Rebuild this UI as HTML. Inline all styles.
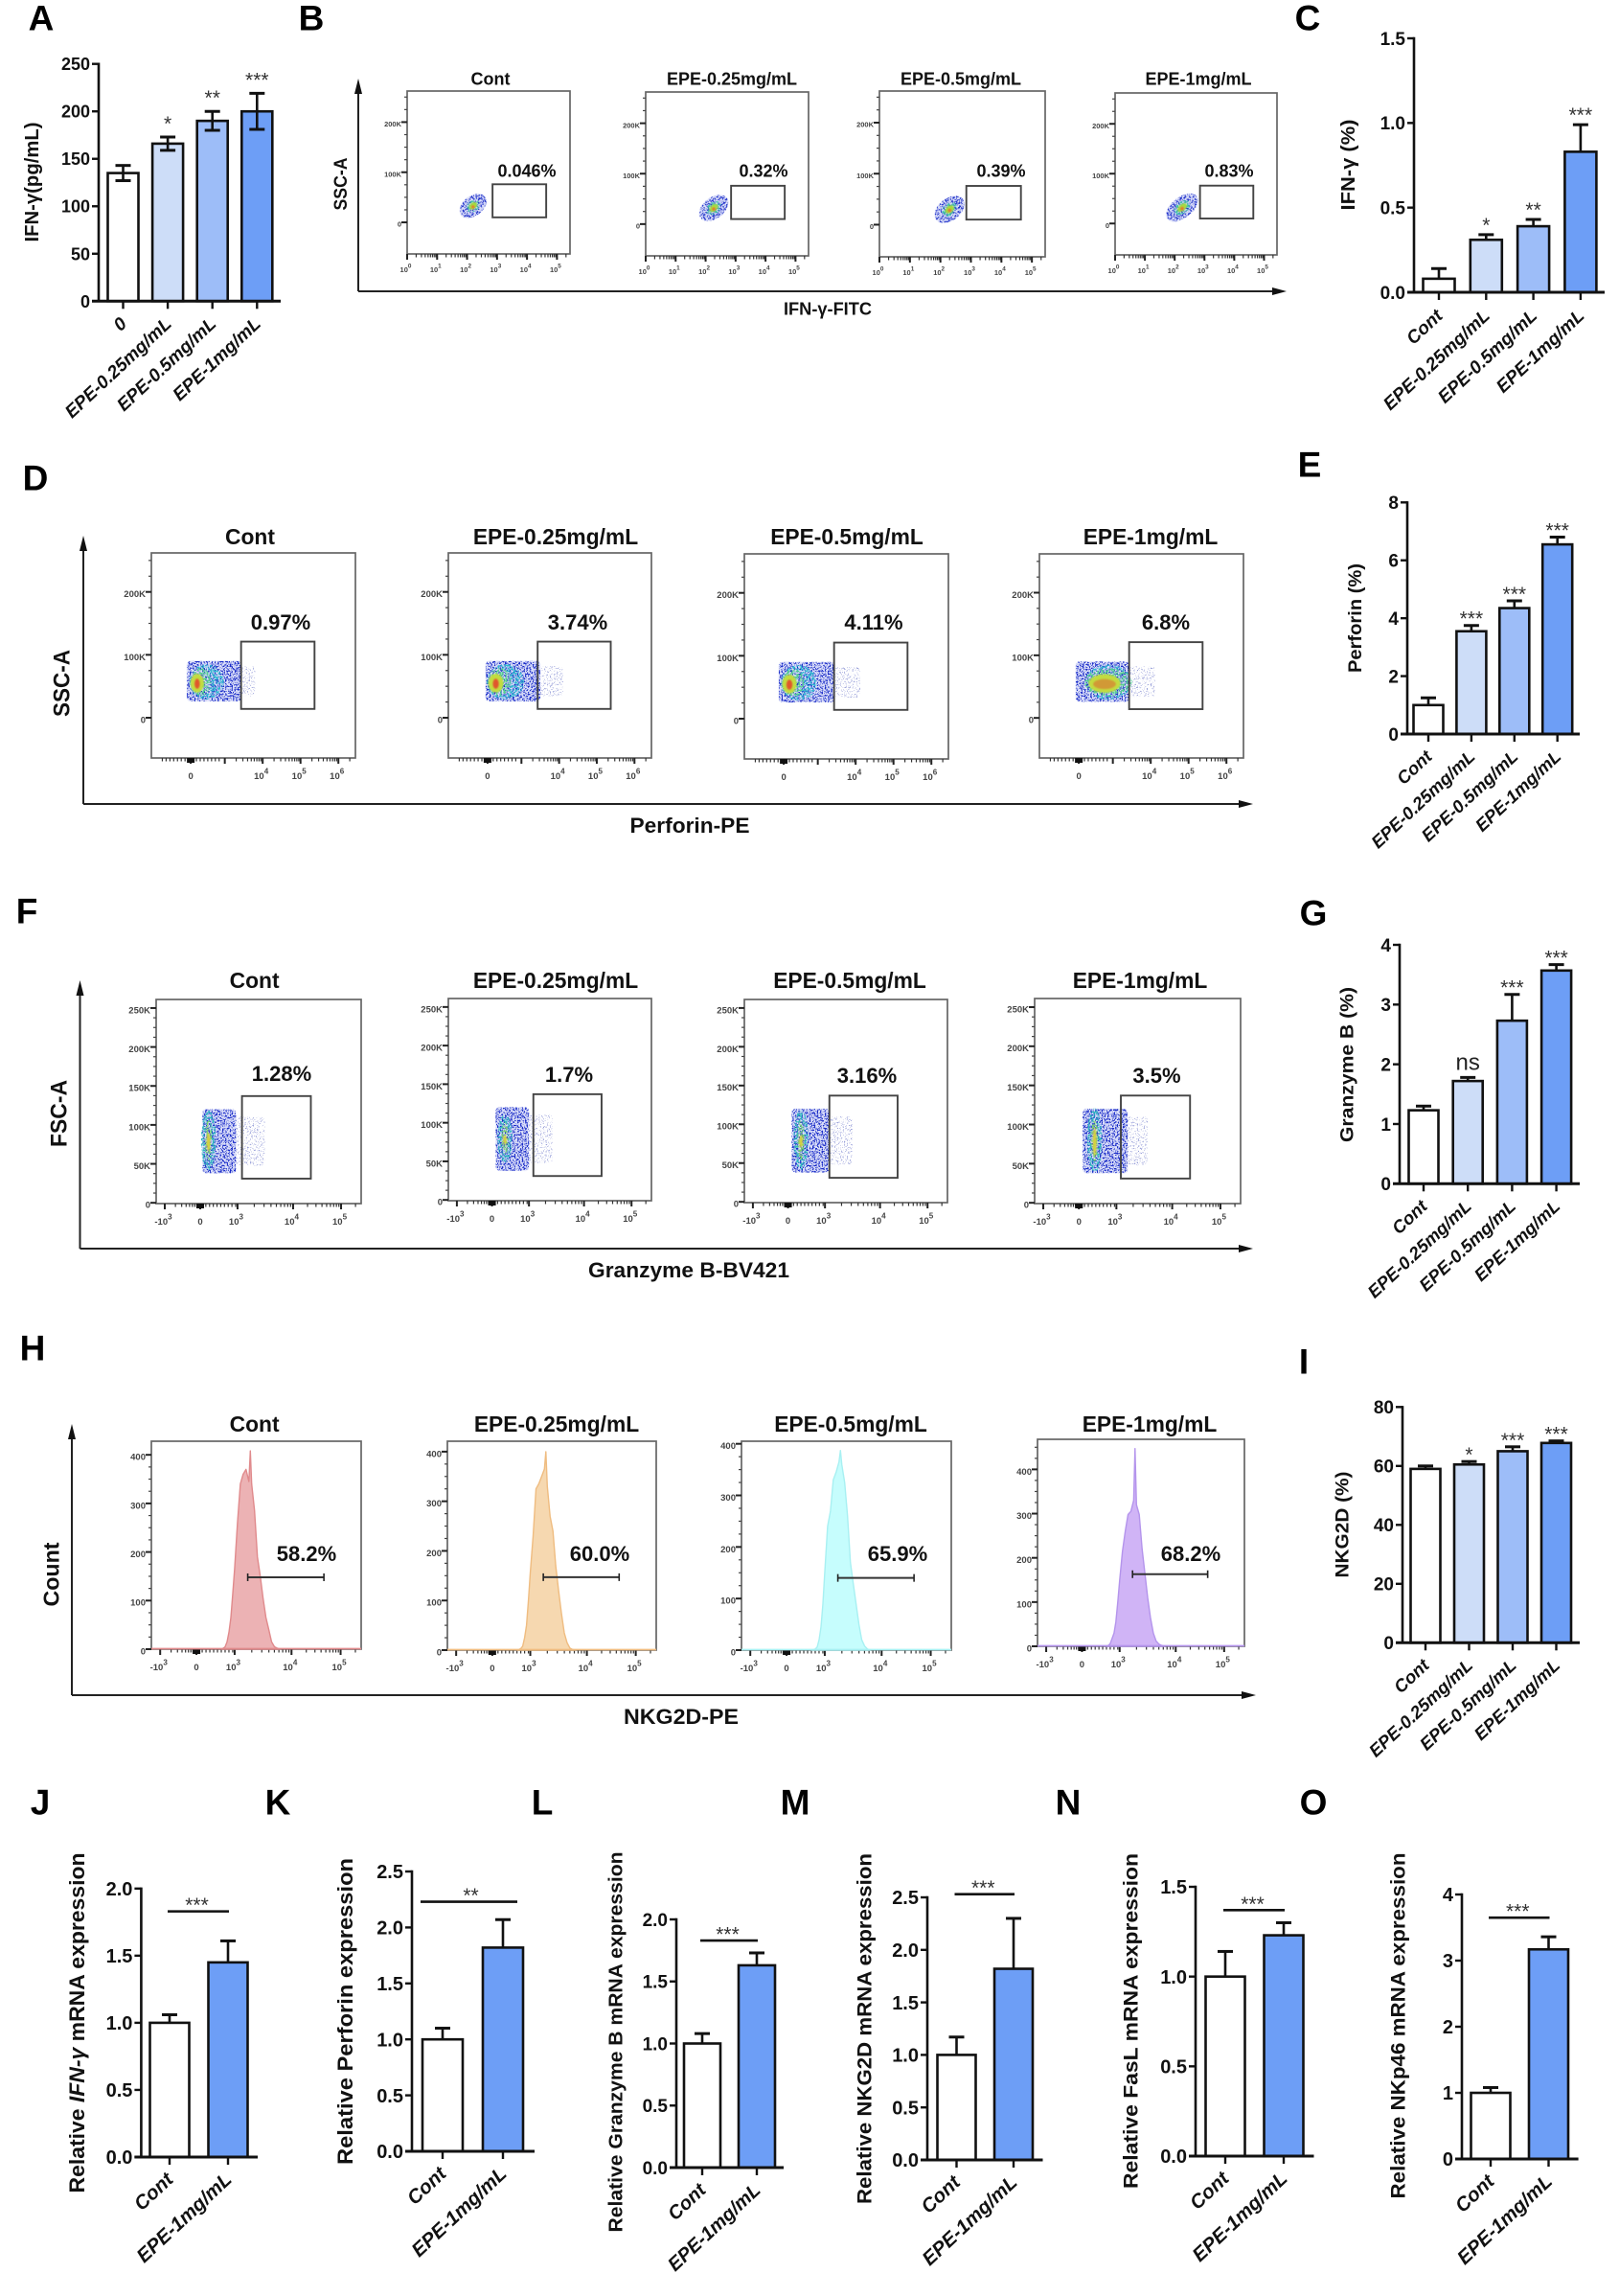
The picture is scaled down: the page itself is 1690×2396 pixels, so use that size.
<!DOCTYPE html>
<html lang="en">
<head>
<meta charset="utf-8">
<title>EPE NK cell activation figure</title>
<style>
html,body{margin:0;padding:0;background:#fff;}
svg{display:block;font-family:"Liberation Sans",sans-serif;}
</style>
</head>
<body>
<svg id="figure" width="1690" height="2396" viewBox="0 0 1690 2396">
<defs>
<filter id="speckle" x="-10%" y="-10%" width="120%" height="120%" color-interpolation-filters="sRGB">
<feTurbulence type="fractalNoise" baseFrequency="0.62" numOctaves="2" seed="4" result="n"/>
<feColorMatrix in="n" type="matrix" values="0 0 0 0 0 0 0 0 0 0 0 0 0 0 0 14 0 0 0 -7.2" result="m"/>
<feComposite in="SourceGraphic" in2="m" operator="in"/>
</filter>
<filter id="speckle2" x="-10%" y="-10%" width="120%" height="120%" color-interpolation-filters="sRGB">
<feTurbulence type="fractalNoise" baseFrequency="0.5" numOctaves="2" seed="12" result="n"/>
<feColorMatrix in="n" type="matrix" values="0 0 0 0 0 0 0 0 0 0 0 0 0 0 0 12 0 0 0 -5.8" result="m"/>
<feComposite in="SourceGraphic" in2="m" operator="in"/>
<feGaussianBlur stdDeviation="0.3"/>
</filter>
<filter id="sparse" x="-10%" y="-10%" width="120%" height="120%" color-interpolation-filters="sRGB">
<feTurbulence type="fractalNoise" baseFrequency="0.7" numOctaves="2" seed="9" result="n"/>
<feColorMatrix in="n" type="matrix" values="0 0 0 0 0 0 0 0 0 0 0 0 0 0 0 16 0 0 0 -9.6" result="m"/>
<feComposite in="SourceGraphic" in2="m" operator="in"/>
</filter>
<filter id="soft3" x="-50%" y="-50%" width="200%" height="200%"><feGaussianBlur stdDeviation="2.6"/></filter>
<filter id="soft2" x="-50%" y="-50%" width="200%" height="200%"><feGaussianBlur stdDeviation="1.6"/></filter>
<filter id="soft1" x="-50%" y="-50%" width="200%" height="200%"><feGaussianBlur stdDeviation="0.9"/></filter>
<filter id="soft0" x="-10%" y="-10%" width="120%" height="120%"><feGaussianBlur stdDeviation="0.4"/></filter>
</defs>
</svg>
<script>
/* ===== bar chart data ===== */
const doseCategories = ['Cont', 'EPE-0.25mg/mL', 'EPE-0.5mg/mL', 'EPE-1mg/mL'];
const aCategories = ['0', 'EPE-0.25mg/mL', 'EPE-0.5mg/mL', 'EPE-1mg/mL'];
const pairCategories = ['Cont', 'EPE-1mg/mL'];
const doseColors = ['#ffffff', '#cdddf8', '#9dbdf8', '#6d9ef6'];
const pairColors = ['#ffffff', '#6d9ef6'];

const aValues = [135, 166, 190, 200];
const aErrors = [8, 7, 10, 19];
const aSig = ['', '*', '**', '***'];
const aTicks = [0, 50, 100, 150, 200, 250];
const aTickLabels = ['0', '50', '100', '150', '200', '250'];

const cValues = [0.08, 0.31, 0.39, 0.83];
const cErrors = [0.06, 0.03, 0.04, 0.16];
const cSig = ['', '*', '**', '***'];
const cTicks = [0, 0.5, 1, 1.5];
const cTickLabels = ['0.0', '0.5', '1.0', '1.5'];

const eValues = [1.0, 3.55, 4.35, 6.55];
const eErrors = [0.25, 0.2, 0.25, 0.25];
const eSig = ['', '***', '***', '***'];
const eTicks = [0, 2, 4, 6, 8];
const eTickLabels = ['0', '2', '4', '6', '8'];

const gValues = [1.23, 1.72, 2.73, 3.57];
const gErrors = [0.07, 0.06, 0.44, 0.1];
const gSig = ['', 'ns', '***', '***'];
const gTicks = [0, 1, 2, 3, 4];
const gTickLabels = ['0', '1', '2', '3', '4'];

const iValues = [59, 60.5, 65, 67.8];
const iErrors = [1.0, 1.0, 1.5, 0.7];
const iSig = ['', '*', '***', '***'];
const iTicks = [0, 20, 40, 60, 80];
const iTickLabels = ['0', '20', '40', '60', '80'];

const jValues = [1.0, 1.45];
const jErrors = [0.06, 0.16];
const jTicks = [0, 0.5, 1, 1.5, 2];
const jTickLabels = ['0.0', '0.5', '1.0', '1.5', '2.0'];

const kValues = [1.0, 1.82];
const kErrors = [0.1, 0.25];
const kTicks = [0, 0.5, 1, 1.5, 2, 2.5];
const kTickLabels = ['0.0', '0.5', '1.0', '1.5', '2.0', '2.5'];

const lValues = [1.0, 1.63];
const lErrors = [0.08, 0.1];
const lTicks = [0, 0.5, 1, 1.5, 2];
const lTickLabels = ['0.0', '0.5', '1.0', '1.5', '2.0'];

const mValues = [1.0, 1.82];
const mErrors = [0.17, 0.48];
const mTicks = [0, 0.5, 1, 1.5, 2, 2.5];
const mTickLabels = ['0.0', '0.5', '1.0', '1.5', '2.0', '2.5'];

const nValues = [1.0, 1.23];
const nErrors = [0.14, 0.07];
const nTicks = [0, 0.5, 1, 1.5];
const nTickLabels = ['0.0', '0.5', '1.0', '1.5'];

const oValues = [1.0, 3.17];
const oErrors = [0.08, 0.19];
const oTicks = [0, 1, 2, 3, 4];
const oTickLabels = ['0', '1', '2', '3', '4'];

/* ===== flow cytometry axes (axis units) ===== */
const bXBreakU = [0, 5];
const bXBreakF = [0, 0.92];
const bXTicks = [0, 1, 2, 3, 4, 5];
const bXLabels = ['10', '10', '10', '10', '10', '10'];
const bXExps = ['0', '1', '2', '3', '4', '5'];
const bYDomain = [-63, 262];
const bYTicks = [0, 100, 200];
const bYLabels = ['0', '100K', '200K'];

const dXBreakU = [1.06, 6.45];
const dXBreakF = [0, 1];
const dXTicks = [2.1, 4, 5, 6];
const dXLabels = ['0', '10', '10', '10'];
const dXExps = ['', '4', '5', '6'];
const dYDomain = [-64, 262];
const dYTicks = [0, 100, 200];
const dYLabels = ['0', '100K', '200K'];

const fXBreakU = [-1, 0, 1, 2, 3];
const fXBreakF = [0.042, 0.215, 0.397, 0.668, 0.902];
const fXTicks = [-1, 0, 1, 2, 3];
const fXLabels = ['-10', '0', '10', '10', '10'];
const fXExps = ['3', '', '3', '4', '5'];
const fYDomain = [-1, 261];
const fYTicks = [0, 50, 100, 150, 200, 250];
const fYLabels = ['0', '50K', '100K', '150K', '200K', '250K'];

const hYMax = [428, 421, 405, 468];
const hYTicks = [0, 100, 200, 300, 400];
const hYLabels = ['0', '100', '200', '300', '400'];

/* ===== gates ===== */
const bGateX = [2.85, 4.64];
const bGateY = [10, 76];
const dGateX = [3.43, 5.37];
const dGateY = [14, 121];
const fGateX = [1.08, 2.37];
const fGateY = [31, 137];
const hGateX = [1.23, 2.66];
const hGateCounts = [148, 147, 140, 163];

/* ===== population clouds: centre and spread in axis units ===== */
const bCloudCentreX = [2.2, 2.27, 2.3, 2.25];
const bCloudCentreY = [33, 32, 30, 32];
const bCloudSpreadX = [0.5, 0.55, 0.55, 0.62];
const bCloudSpreadY = [22, 23, 24, 23];

const dCloudLow = [2.0, 2.05, 1.97, 2.02];
const dCloudHigh = [3.43, 3.5, 3.44, 3.43];
const dCloudTail = [3.8, 4.11, 4.12, 4.12];
const dCoreX = [2.27, 2.32, 2.25, 2.78];
const dCoreSpread = [0.24, 0.26, 0.25, 0.32];
const dHighSpread = [0.18, 0.2, 0.19, 0.42];
const dLowShift = [0.25, 0.25, 0.25, 0.1];
const dRedSpread = [0.07, 0.08, 0.08, 0.3];
const dRedOpacity = [0.9, 0.9, 0.9, 0.45];

const fCloudLow = [0.06, 0.1, 0.1, 0.1];
const fCloudHigh = [0.96, 1.0, 1.08, 1.2];
const fCloudTail = [1.49, 1.43, 1.5, 1.56];
const fCoreX = [0.22, 0.35, 0.35, 0.42];
const fCoreSpreadY = [32, 26, 32, 34];
const fRedSpreadY = [12, 6, 8, 18];

/* ===== histogram series ===== */
const hBins = [0.65, 0.7, 0.75, 0.8, 0.85, 0.9, 0.95, 1, 1.05, 1.1, 1.15, 1.2, 1.25, 1.275, 1.3, 1.35, 1.4, 1.45, 1.5, 1.55, 1.6, 1.65, 1.7, 1.75, 1.8];
const hCountsCont = [0, 2, 5, 15, 35, 65, 115, 165, 260, 340, 360, 370, 345, 408, 340, 285, 190, 150, 105, 65, 40, 15, 5, 2, 0];
const hCountsLow = [0, 1, 3, 8, 25, 50, 100, 155, 230, 325, 335, 350, 365, 400, 330, 270, 240, 170, 120, 75, 35, 15, 4, 1, 0];
const hCountsMid = [0, 1, 2, 6, 20, 45, 90, 150, 240, 270, 330, 345, 365, 387, 360, 325, 260, 170, 130, 90, 50, 20, 8, 2, 0];
const hCountsHigh = [0, 2, 6, 18, 30, 55, 100, 150, 215, 260, 298, 305, 330, 447, 320, 298, 220, 165, 110, 65, 30, 12, 5, 2, 0];

/* ===== helpers ===== */
const root = document.getElementById('figure');
const NS = root.namespaceURI;

function add(parent, tag, attrs, name) {
  const el = document.createElementNS(NS, tag);
  for (const k in attrs) el.setAttribute(k, attrs[k]);
  
  
  parent.appendChild(el);
  return el;
}
function group(parent, name) {
  return add(parent, 'g', {}, name);
}
function line(parent, x1, y1, x2, y2, w, c, name) {
  return add(parent, 'line', {x1: x1, y1: y1, x2: x2, y2: y2, 'stroke-width': w, stroke: c}, name);
}
function label(parent, x, y, str, o, name) {
  o = o || {};
  const a = {
    x: o.rot !== undefined ? 0 : x,
    y: o.rot !== undefined ? 0 : y,
    'font-size': o.size || 18,
    'font-weight': o.weight || 'normal',
    'text-anchor': o.anchor || 'middle',
    fill: o.fill || '#111'
  };
  if (o.italic) a['font-style'] = 'italic';
  if (o.rot !== undefined) a.transform = 'translate(' + x + ',' + y + ') rotate(' + o.rot + ')';
  if (o.len) { a.textLength = o.len; a.lengthAdjust = 'spacingAndGlyphs'; }
  const el = add(parent, 'text', a, name);
  if (Array.isArray(str)) {
    str.forEach(function (p) {
      const t = add(el, 'tspan', p[1] ? {'font-style': 'italic'} : {}, 'text-part');
      t.textContent = p[0];
    });
  } else {
    el.textContent = str;
  }
  return el;
}
function panelLetter(ch, cx, cy) {
  label(root, cx, cy + 13.5, ch, {size: 37, weight: 'bold', fill: '#000'}, 'panel-letter-' + ch.toLowerCase());
}
function axisArrows(parent, ax, top, bottom, right, yText, yX, yY, yLen, xText, xX, xY, xSize, xLen, ySize) {
  line(parent, ax, top + 12, ax, bottom, 2, '#222', 'y-axis-arrow-line');
  add(parent, 'polygon', {points: ax + ',' + top + ' ' + (ax - 4) + ',' + (top + 16) + ' ' + (ax + 4) + ',' + (top + 16), fill: '#111'}, 'y-axis-arrow-head');
  line(parent, ax, bottom, right - 12, bottom, 2, '#222', 'x-axis-arrow-line');
  add(parent, 'polygon', {points: right + ',' + bottom + ' ' + (right - 15) + ',' + (bottom - 4) + ' ' + (right - 15) + ',' + (bottom + 4), fill: '#111'}, 'x-axis-arrow-head');
  label(parent, yX + ySize * 0.36, yY, yText, {size: ySize, weight: 'bold', rot: -90, len: yLen}, 'y-axis-title');
  label(parent, xX, xY + xSize * 0.36, xText, {size: xSize, weight: 'bold', len: xLen}, 'x-axis-title');
}

/* ===== bar chart ===== */
function barChart(c) {
  const g = group(root, c.name);
  const y = function (v) { return c.y0 - (v / c.yMax) * (c.y0 - c.yTop); };
  const x = function (i) { return c.first + c.step * i; };

  c.ticks.forEach(function (t, i) {
    line(g, c.axisX - 7, y(t), c.axisX, y(t), 2.4, '#111', 'y-tick');
    label(g, c.axisX - 9, y(t) + c.tickSize * 0.36, c.tickLabels[i], {size: c.tickSize, weight: 'bold', anchor: 'end'}, 'y-tick-label');
  });

  c.values.forEach(function (v, i) {
    const cx = x(i);
    const top = y(v + c.errors[i]);
    line(g, cx, y(v), cx, top, 2.6, '#111', 'error-bar');
    line(g, cx - 8, top, cx + 8, top, 3, '#111', 'error-cap');
    add(g, 'rect', {
      x: cx - c.barW / 2, y: y(v), width: c.barW, height: y(0) - y(v),
      fill: c.colors[i], stroke: '#111', 'stroke-width': 2.6
    }, 'bar');
    if (c.bothErrors) {
      const low2 = y(v - c.errors[i]);
      line(g, cx, y(v), cx, low2, 2.6, '#111', 'error-bar-lower');
      line(g, cx - 8, low2, cx + 8, low2, 3, '#111', 'error-cap-lower');
    }
    line(g, cx, c.y0, cx, c.y0 + 8, 2.4, '#111', 'x-tick');
    label(g, cx + c.labelDx, c.y0 + c.labelDy, c.categories[i], {
      size: c.catSize, weight: 'bold', italic: true, anchor: 'end', rot: -43
    }, 'x-tick-label');
    if (c.sig && c.sig[i]) {
      if (c.sig[i] === 'ns') {
        label(g, cx, top - 8, 'ns', {size: 24, fill: '#222'}, 'significance-label');
      } else {
        label(g, cx, top + c.starDy, c.sig[i], {size: 21, fill: '#333'}, 'significance-label');
      }
    }
  });

  line(g, c.axisX, c.yTop - 1.2, c.axisX, c.y0, 2.6, '#111', 'y-axis-line');
  line(g, c.axisX - 7, c.y0, c.axisEnd, c.y0, 3, '#111', 'x-axis-line');
  label(g, c.title.x + c.title.size * 0.36, c.title.y, c.title.text, {
    size: c.title.size, weight: c.title.weight || 'bold', rot: -90, len: c.title.len
  }, 'y-axis-title');

  if (c.sigLine !== undefined) {
    const ly = y(c.sigLine);
    line(g, x(0) + c.sigFrom, ly, x(1) + c.sigTo, ly, 2.6, '#111', 'significance-bracket');
    label(g, (x(0) + x(1)) / 2 - 2, ly + 0.5, c.sigText, {size: 21, fill: '#333'}, 'significance-label');
  }
}

/* ===== flow plots ===== */
function piecewise(us, fs) {
  return function (u) {
    let i = 0;
    while (i < us.length - 2 && u > us[i + 1]) i++;
    return fs[i] + (u - us[i]) / (us[i + 1] - us[i]) * (fs[i + 1] - fs[i]);
  };
}
function flowFrame(parent, f, fam) {
  const frac = piecewise(fam.breakU, fam.breakF);
  const sx = function (u) { return f[0] + frac(u) * (f[2] - f[0]); };
  const sy = function (v) { return f[3] - (v - fam.yDomain[0]) / (fam.yDomain[1] - fam.yDomain[0]) * (f[3] - f[1]); };

  add(parent, 'rect', {x: f[0], y: f[1], width: f[2] - f[0], height: f[3] - f[1], fill: '#fff', stroke: '#666', 'stroke-width': 1.7}, 'plot-frame');

  const yStep = fam.yTicks[1] - fam.yTicks[0];
  for (let v = fam.yTicks[0]; v <= fam.yDomain[1]; v += yStep / 4) {
    if (v < fam.yDomain[0]) continue;
    if (sy(v) >= f[1] + 2) line(parent, f[0] - 3, sy(v), f[0], sy(v), 1.2, '#444', 'y-minor-tick');
  }
  fam.yTicks.forEach(function (t, i) {
    line(parent, f[0] - 6, sy(t), f[0], sy(t), 2, '#222', 'y-tick');
    label(parent, f[0] - 6, sy(t) + fam.font * 0.36 + 2, fam.yLabels[i], {size: fam.font, anchor: 'end', fill: '#444', weight: 'bold'}, 'y-tick-label');
  });

  if (fam.zeroSpan) {
    for (let u = fam.zeroSpan[0]; u <= fam.zeroSpan[1]; u += 0.1) {
      line(parent, sx(u), f[3], sx(u), f[3] + 3.5, 1.2, '#333', 'x-minor-tick');
    }
  }
  if (fam.extraMajor !== undefined) {
    line(parent, sx(fam.extraMajor), f[3], sx(fam.extraMajor), f[3] + 6, 2, '#222', 'x-tick');
    for (let m = 2; m < 10; m++) {
      const eu = fam.extraMajor + Math.log10(m);
      line(parent, sx(eu), f[3], sx(eu), f[3] + 3.5, 1.2, '#333', 'x-minor-tick');
    }
  }
  fam.xTicks.forEach(function (t, i) {
    const tx = sx(t);
    if (tx <= f[2]) line(parent, tx, f[3], tx, f[3] + 6, 2, '#222', 'x-tick');
    if (fam.xExps[i] !== '') {
      for (let m = 2; m < 10; m++) {
        const mu = t + Math.log10(m);
        if (sx(mu) < f[2] - 1) line(parent, sx(mu), f[3], sx(mu), f[3] + 3.5, 1.2, '#333', 'x-minor-tick');
      }
    } else {
      add(parent, 'rect', {x: tx - 4, y: f[3], width: 8, height: 5, fill: '#111'}, 'x-zero-tick-cluster');
    }
    const lx = tx;
    const ly = f[3] + fam.labelDy;
    const el = label(parent, lx - (fam.xExps[i] ? 1.5 : 0), ly, fam.xLabels[i], {size: fam.font, fill: '#444', weight: 'bold'}, 'x-tick-label');
    if (fam.xExps[i]) {
      const sup = add(el, 'tspan', {dy: -fam.font * 0.6, 'font-size': fam.font * 0.85}, 'x-tick-exponent');
      sup.textContent = fam.xExps[i];
    }
  });
  return {x: sx, y: sy};
}
function headings(parent, title, tx, ty, tsize, tlen, pct, px, py, psize) {
  label(parent, tx, ty + tsize * 0.36, title, {size: tsize, weight: 'bold', len: tlen}, 'sample-title');
  label(parent, px, py + psize * 0.36, pct, {size: psize, weight: 'bold'}, 'gate-percentage');
}
function gateRect(parent, s, gx, gy) {
  add(parent, 'rect', {
    x: s.x(gx[0]), y: s.y(gy[1]),
    width: s.x(gx[1]) - s.x(gx[0]), height: s.y(gy[0]) - s.y(gy[1]),
    fill: 'none', stroke: '#444', 'stroke-width': 1.9
  }, 'gate');
}
function ellipseIn(parent, s, cx, cy, rx, ry, fill, filter, tilt, name) {
  const px = s.x(cx), py = s.y(cy);
  const a = {
    cx: px, cy: py,
    rx: Math.abs(s.x(cx + rx) - px), ry: Math.abs(s.y(cy + ry) - py),
    fill: fill
  };
  if (filter) a.filter = 'url(#' + filter + ')';
  if (tilt) a.transform = 'rotate(' + tilt + ' ' + px + ' ' + py + ')';
  return add(parent, 'ellipse', a, name);
}
function boxCloud(parent, s, lo, hi, tail, yLo, yHi) {
  const g = group(parent, 'cell-population');
  const rectOf = function (a, b, top, bottom, fill, filter, op, name) {
    const attrs = {
      x: s.x(a), y: s.y(top), width: s.x(b) - s.x(a), height: s.y(bottom) - s.y(top),
      rx: 4, fill: fill, opacity: op
    };
    if (filter) attrs.filter = 'url(#' + filter + ')';
    add(g, 'rect', attrs, name);
  };
  const inset = (yHi - yLo) * 0.12;
  rectOf(hi, tail, yHi - inset, yLo + inset, '#6a74c8', 'sparse', 0.7, 'population-tail');
  rectOf(lo, hi, yHi, yLo, '#b4bcf4', 'soft0', 0.5, 'population-haze');
  rectOf(lo, hi, yHi, yLo, '#1a2cc8', 'speckle', 1, 'population-speckle');
  return g;
}

/* ----- letters ----- */
panelLetter('A', 43, 18);
panelLetter('B', 325, 18);
panelLetter('C', 1365, 18);
panelLetter('D', 37, 498);
panelLetter('E', 1367, 484);
panelLetter('F', 28, 950);
panelLetter('G', 1371, 952);
panelLetter('H', 34, 1406);
panelLetter('I', 1361, 1420);
panelLetter('J', 42, 1880);
panelLetter('K', 290, 1880);
panelLetter('L', 566, 1880);
panelLetter('M', 830, 1880);
panelLetter('N', 1115, 1880);
panelLetter('O', 1371, 1880);

/* ----- dose bar charts ----- */
barChart({name: 'panel-a-ifn-gamma-bars', axisX: 103, yTop: 66.7, y0: 314.3, yMax: 250, first: 128.5, step: 46.6, barW: 32, axisEnd: 293,
  ticks: aTicks, tickLabels: aTickLabels, tickSize: 18, categories: aCategories, values: aValues, errors: aErrors, sig: aSig, colors: doseColors,
  bothErrors: true, catSize: 19, labelDx: 5, labelDy: 25, starDy: -7,
  title: {text: 'IFN-γ(pg/mL)', x: 33, y: 190, size: 20, len: 125}});
barChart({name: 'panel-c-ifn-gamma-percent-bars', axisX: 1476, yTop: 40, y0: 305, yMax: 1.5, first: 1502, step: 49.3, barW: 33, axisEnd: 1675,
  ticks: cTicks, tickLabels: cTickLabels, tickSize: 19, categories: doseCategories, values: cValues, errors: cErrors, sig: cSig, colors: doseColors,
  catSize: 19, labelDx: 5, labelDy: 26, starDy: -3,
  title: {text: 'IFN-γ (%)', x: 1407, y: 172, size: 20, len: 95}});
barChart({name: 'panel-e-perforin-percent-bars', axisX: 1469, yTop: 524.3, y0: 766, yMax: 8, first: 1491, step: 44.9, barW: 31, axisEnd: 1649,
  ticks: eTicks, tickLabels: eTickLabels, tickSize: 19, categories: doseCategories, values: eValues, errors: eErrors, sig: eSig, colors: doseColors,
  catSize: 18.5, labelDx: 5, labelDy: 25, starDy: 0,
  title: {text: 'Perforin (%)', x: 1414, y: 645, size: 19, len: 114}});
barChart({name: 'panel-g-granzyme-b-percent-bars', axisX: 1461, yTop: 986, y0: 1235.3, yMax: 4, first: 1486, step: 46.2, barW: 31, axisEnd: 1649,
  ticks: gTicks, tickLabels: gTickLabels, tickSize: 19, categories: doseCategories, values: gValues, errors: gErrors, sig: gSig, colors: doseColors,
  catSize: 18.5, labelDx: 5, labelDy: 25, starDy: 0,
  title: {text: 'Granzyme B (%)', x: 1405.5, y: 1111, size: 19, len: 162}});
barChart({name: 'panel-i-nkg2d-percent-bars', axisX: 1464, yTop: 1468.3, y0: 1714.3, yMax: 80, first: 1488, step: 45.5, barW: 31, axisEnd: 1649,
  ticks: iTicks, tickLabels: iTickLabels, tickSize: 19, categories: doseCategories, values: iValues, errors: iErrors, sig: iSig, colors: doseColors,
  catSize: 18.5, labelDx: 5, labelDy: 25, starDy: 0,
  title: {text: 'NKG2D (%)', x: 1400.5, y: 1591, size: 19, len: 111}});

/* ----- mRNA bar charts ----- */
barChart({name: 'panel-j-ifn-gamma-mrna-bars', axisX: 147.4, yTop: 1970.8, y0: 2251, yMax: 2, first: 177, step: 61, barW: 41, axisEnd: 269,
  ticks: jTicks, tickLabels: jTickLabels, tickSize: 20, categories: pairCategories, values: jValues, errors: jErrors, colors: pairColors,
  catSize: 20.5, labelDx: 5, labelDy: 25, sigLine: 1.83, sigText: '***', sigFrom: -2, sigTo: 1,
  title: {text: [['Relative ', false], ['IFN-γ', true], [' mRNA expression', false]], x: 80, y: 2111, size: 22, len: 355}});
barChart({name: 'panel-k-perforin-mrna-bars', axisX: 430, yTop: 1953, y0: 2245, yMax: 2.5, first: 462, step: 63, barW: 42, axisEnd: 558,
  ticks: kTicks, tickLabels: kTickLabels, tickSize: 20, categories: pairCategories, values: kValues, errors: kErrors, colors: pairColors,
  catSize: 20.5, labelDx: 5, labelDy: 25, sigLine: 2.23, sigText: '**', sigFrom: -23, sigTo: 15,
  title: {text: 'Relative Perforin expression', x: 360, y: 2099, size: 22, len: 320}});
barChart({name: 'panel-l-granzyme-b-mrna-bars', axisX: 706, yTop: 2003, y0: 2262, yMax: 2, first: 733, step: 57, barW: 38, axisEnd: 818,
  ticks: lTicks, tickLabels: lTickLabels, tickSize: 19, categories: pairCategories, values: lValues, errors: lErrors, colors: pairColors,
  catSize: 20, labelDx: 5, labelDy: 25, sigLine: 1.83, sigText: '***', sigFrom: -2, sigTo: 1,
  title: {text: 'Relative Granzyme B mRNA expression', x: 642, y: 2131, size: 20.5, len: 397}});
barChart({name: 'panel-m-nkg2d-mrna-bars', axisX: 968, yTop: 1980, y0: 2254, yMax: 2.5, first: 998.5, step: 59.5, barW: 40, axisEnd: 1088.5,
  ticks: mTicks, tickLabels: mTickLabels, tickSize: 20, categories: pairCategories, values: mValues, errors: mErrors, colors: pairColors,
  catSize: 20.5, labelDx: 5, labelDy: 25, sigLine: 2.53, sigText: '***', sigFrom: -2, sigTo: 1,
  title: {text: 'Relative NKG2D mRNA expression', x: 902, y: 2117, size: 21, len: 366}});
barChart({name: 'panel-n-fasl-mrna-bars', axisX: 1248, yTop: 1969, y0: 2250, yMax: 1.5, first: 1279, step: 61, barW: 41, axisEnd: 1371.5,
  ticks: nTicks, tickLabels: nTickLabels, tickSize: 20, categories: pairCategories, values: nValues, errors: nErrors, colors: pairColors,
  catSize: 20.5, labelDx: 5, labelDy: 25, sigLine: 1.37, sigText: '***', sigFrom: -2, sigTo: 1,
  title: {text: 'Relative FasL mRNA expression', x: 1180, y: 2109, size: 21, len: 350}});
barChart({name: 'panel-o-nkp46-mrna-bars', axisX: 1526, yTop: 1977, y0: 2253, yMax: 4, first: 1556, step: 60.5, barW: 41, axisEnd: 1647.6,
  ticks: oTicks, tickLabels: oTickLabels, tickSize: 20, categories: pairCategories, values: oValues, errors: oErrors, colors: pairColors,
  catSize: 20.5, labelDx: 5, labelDy: 25, sigLine: 3.65, sigText: '***', sigFrom: -2, sigTo: 1,
  title: {text: 'Relative NKp46 mRNA expression', x: 1459, y: 2114, size: 21, len: 361}});

/* ----- panel B ----- */
(function () {
  const g = group(root, 'panel-b-ifn-gamma-flow');
  axisArrows(g, 374, 82, 304, 1343, 'SSC-A', 355, 192, 55, 'IFN-γ-FITC', 864, 322, 18, 92, 19);
  const fam = {breakU: bXBreakU, breakF: bXBreakF, xTicks: bXTicks, xLabels: bXLabels, xExps: bXExps, yDomain: bYDomain, yTicks: bYTicks, yLabels: bYLabels, font: 7.5, labelDy: 19};
  const frames = [[425, 95, 595, 265], [674, 96, 844, 267], [918, 95, 1091, 268], [1164, 97, 1333, 266]];
  const pcts = ['0.046%', '0.32%', '0.39%', '0.83%'];
  const pctX = [550, 797, 1045, 1283];
  const titleX = [512, 764, 1003, 1251];
  frames.forEach(function (f, i) {
    const p = group(g, 'flow-plot');
    const s = flowFrame(p, f, fam);
    const c = group(p, 'cell-population');
    const tilt = -38;
    ellipseIn(c, s, bCloudCentreX[i], bCloudCentreY[i], bCloudSpreadX[i], bCloudSpreadY[i] * 0.9, '#b4bcf4', 'soft0', tilt, 'population-haze').setAttribute('opacity', '0.5');
    ellipseIn(c, s, bCloudCentreX[i], bCloudCentreY[i], bCloudSpreadX[i], bCloudSpreadY[i] * 0.9, '#1a2cc8', 'speckle', tilt, 'population-speckle');
    ellipseIn(c, s, bCloudCentreX[i], bCloudCentreY[i], bCloudSpreadX[i] * 0.5, bCloudSpreadY[i] * 0.5, '#39c4a8', 'speckle2', tilt, 'population-mid-density');
    ellipseIn(c, s, bCloudCentreX[i], bCloudCentreY[i], bCloudSpreadX[i] * 0.3, bCloudSpreadY[i] * 0.28, '#a8dc3c', 'soft1', tilt, 'population-high-density');
    ellipseIn(c, s, bCloudCentreX[i], bCloudCentreY[i] - 2, bCloudSpreadX[i] * 0.1, bCloudSpreadY[i] * 0.14, '#e8722a', 'soft1', tilt, 'population-peak-density');
    gateRect(p, s, bGateX, bGateY);
    headings(p, doseCategories[i], titleX[i], 82, 18, 0, pcts[i], pctX[i], 178, 18);
  });
})();

/* ----- panel D ----- */
(function () {
  const g = group(root, 'panel-d-perforin-flow');
  axisArrows(g, 87, 559, 839, 1308, 'SSC-A', 64, 713, 70, 'Perforin-PE', 720, 861, 22, 125, 24);
  const fam = {breakU: dXBreakU, breakF: dXBreakF, xTicks: dXTicks, xLabels: dXLabels, xExps: dXExps, yDomain: dYDomain, yTicks: dYTicks, yLabels: dYLabels, font: 9.5, labelDy: 22, zeroSpan: [1.35, 2.95], extraMajor: 3};
  const frames = [[158, 577, 371, 791], [468, 577, 680, 791], [777, 578, 990, 792], [1085, 578, 1298, 791]];
  const pcts = ['0.97%', '3.74%', '4.11%', '6.8%'];
  const pctX = [293, 603, 912, 1217];
  const titleX = [261, 580, 884, 1201];
  frames.forEach(function (f, i) {
    const p = group(g, 'flow-plot');
    const s = flowFrame(p, f, fam);
    const c = boxCloud(p, s, dCloudLow[i], dCloudHigh[i], dCloudTail[i], 26, 90);
    ellipseIn(c, s, dCoreX[i] + dLowShift[i], 57, dCoreSpread[i] * 1.9, 28, '#30b8d0', 'speckle2', 0, 'population-low-density');
    ellipseIn(c, s, dCoreX[i] + 0.1, 57, dHighSpread[i] * 1.5, 22, '#58d090', 'speckle2', 0, 'population-mid-density');
    ellipseIn(c, s, dCoreX[i], 55, dHighSpread[i], 15, '#c2dc40', 'soft1', 0, 'population-high-density');
    ellipseIn(c, s, dCoreX[i], 54, dRedSpread[i], 8, '#e4482a', 'soft1', 0, 'population-peak-density').setAttribute('opacity', dRedOpacity[i]);
    gateRect(p, s, dGateX, dGateY);
    headings(p, doseCategories[i], titleX[i], 560, 22.8, undefined, pcts[i], pctX[i], 649, 22);
  });
})();

/* ----- panel F ----- */
(function () {
  const g = group(root, 'panel-f-granzyme-b-flow');
  axisArrows(g, 83.5, 1023, 1303, 1308, 'FSC-A', 61, 1162, 70, 'Granzyme B-BV421', 719, 1325, 22, 210, 24);
  const fam = {breakU: fXBreakU, breakF: fXBreakF, xTicks: fXTicks, xLabels: fXLabels, xExps: fXExps, yDomain: fYDomain, yTicks: fYTicks, yLabels: fYLabels, font: 9.5, labelDy: 22, zeroSpan: [0.05, 0.95]};
  const frames = [[163, 1043, 377, 1256], [468, 1042, 680, 1253], [777, 1043, 989, 1255], [1080, 1042, 1295, 1256]];
  const pcts = ['1.28%', '1.7%', '3.16%', '3.5%'];
  const pctX = [294, 594, 905, 1207.5];
  const pctY = [1120, 1121, 1122, 1122];
  const titleX = [265.6, 580, 887, 1190];
  frames.forEach(function (f, i) {
    const p = group(g, 'flow-plot');
    const s = flowFrame(p, f, fam);
    const c = boxCloud(p, s, fCloudLow[i], fCloudHigh[i], fCloudTail[i], 38, 120);
    ellipseIn(c, s, fCoreX[i], 80, 0.2, fCoreSpreadY[i] * 1.2, '#30b8c0', 'speckle2', 0, 'population-mid-density');
    ellipseIn(c, s, fCoreX[i], 80, 0.09, fCoreSpreadY[i] * 0.8, '#7ccf70', 'speckle2', 0, 'population-high-density');
    ellipseIn(c, s, fCoreX[i], 78, 0.05, fRedSpreadY[i], '#d4d040', 'soft1', 0, 'population-peak-density');
    gateRect(p, s, fGateX, fGateY);
    headings(p, doseCategories[i], titleX[i], 1023, 22.8, undefined, pcts[i], pctX[i], pctY[i], 22);
  });
})();

/* ----- panel H ----- */
(function () {
  const g = group(root, 'panel-h-nkg2d-histograms');
  axisArrows(g, 75, 1486, 1769, 1311, 'Count', 53, 1643, 67, 'NKG2D-PE', 711, 1791, 22, 120, 23);
  const frames = [[158, 1504, 377, 1721], [467, 1504, 685, 1722], [774, 1504, 993, 1722], [1083, 1502, 1299, 1718]];
  const series = [hCountsCont, hCountsLow, hCountsMid, hCountsHigh];
  const fills = ['#ecb2b4', '#f6d8b0', '#c6fdfd', '#d0b4f6'];
  const strokes = ['#e08a8c', '#efbc80', '#a8f0f2', '#b494ec'];
  const pcts = ['58.2%', '60.0%', '65.9%', '68.2%'];
  const pctX = [320, 626, 937, 1243];
  const titleX = [265.6, 581, 888, 1200];
  frames.forEach(function (f, i) {
    const p = group(g, 'flow-plot');
    const fam = {breakU: fXBreakU, breakF: fXBreakF, xTicks: fXTicks, xLabels: fXLabels, xExps: fXExps, yDomain: [0, hYMax[i]], yTicks: hYTicks, yLabels: hYLabels, font: 9.5, labelDy: 22, zeroSpan: [0.05, 0.95]};
    const s = flowFrame(p, f, fam);
    let d = 'M' + s.x(hBins[0]) + ' ' + s.y(0);
    series[i].forEach(function (v, j) {
      d += ' L' + s.x(hBins[j]).toFixed(1) + ' ' + s.y(v).toFixed(1);
    });
    d += ' Z';
    add(p, 'path', {d: d, fill: fills[i], stroke: strokes[i], 'stroke-width': 1.4, 'stroke-linejoin': 'round'}, 'histogram');
    line(p, f[0], f[3] - 0.5, f[2], f[3] - 0.5, 1.8, strokes[i], 'histogram-baseline');
    const gy = s.y(hGateCounts[i]);
    const x0 = s.x(hGateX[0]);
    const x1 = s.x(hGateX[1]);
    line(p, x0, gy, x1, gy, 2, '#333', 'gate-bar');
    line(p, x0, gy - 4, x0, gy + 4, 1.6, '#222', 'gate-cap-left');
    line(p, x1, gy - 4, x1, gy + 4, 1.6, '#222', 'gate-cap-right');
    headings(p, doseCategories[i], titleX[i], 1486, 22.8, undefined, pcts[i], pctX[i], 1621, 22);
  });
})();
</script>
</body>
</html>
